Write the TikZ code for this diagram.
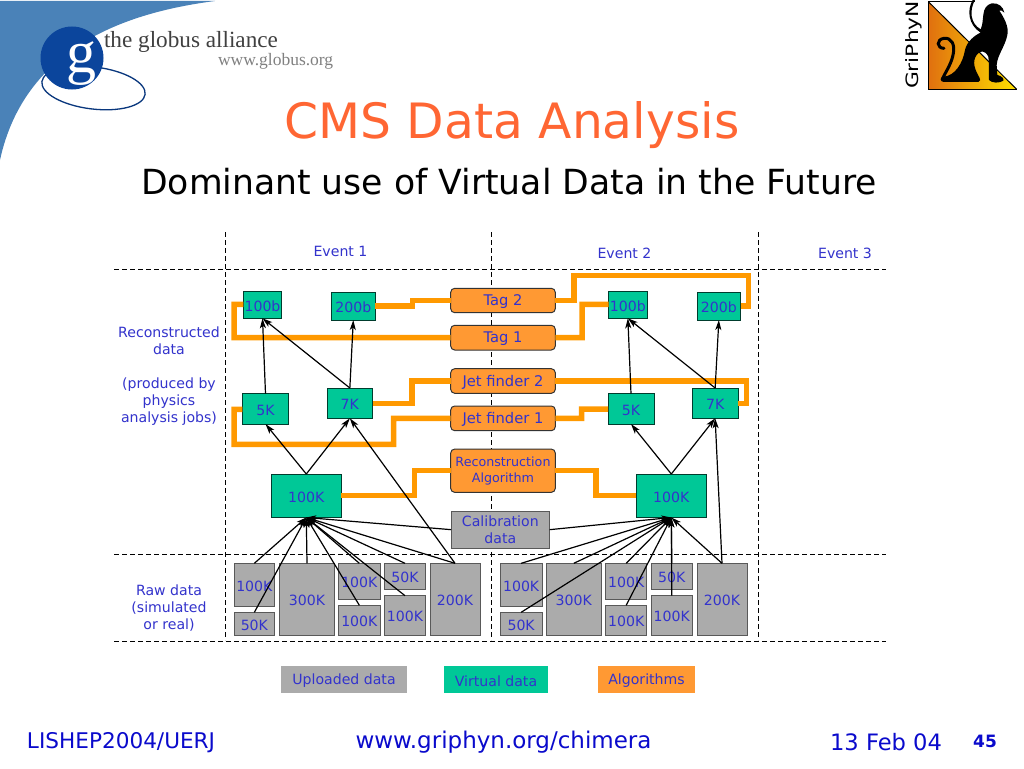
\documentclass[tikz,border=0pt]{standalone}
\usepackage{fontspec}
\setmainfont{DejaVu Sans}
\newfontfamily\serifl{Liberation Serif}
\usetikzlibrary{arrows.meta,shadings}
\definecolor{txtblue}{HTML}{3333CC}
\definecolor{vgreen}{HTML}{00C897}
\definecolor{upgray}{HTML}{ABABAB}
\definecolor{algo}{HTML}{FF9933}
\definecolor{wire}{HTML}{FF9900}
\definecolor{titleor}{HTML}{FF6633}
\definecolor{footblue}{HTML}{0A0ACC}
\definecolor{swoosh}{HTML}{4A82B8}
\definecolor{globe}{HTML}{0B459C}
\definecolor{grleft}{HTML}{E0700F}
\definecolor{grright}{HTML}{FFE000}
\newcommand{\lowr}[1]{\raisebox{-1.3pt}[\height][\depth]{#1}}
\tikzset{
 every node/.style={inner sep=0pt,outer sep=0pt,text=txtblue,font=\fontsize{14.1}{17}\selectfont,align=center},
 virt/.style={draw=black!70!vgreen,line width=1pt,fill=vgreen},
 raw/.style={draw=black!65,line width=1pt,fill=upgray},
 alg/.style={draw=black!80,line width=1pt,fill=algo,rounded corners=4pt,font=\fontsize{14.7}{17}\selectfont},
 wirep/.style={draw=wire,line width=5.5pt,miter limit=10},
 flow/.style={draw=black,line width=1.2pt,-{Stealth[length=10pt,width=6pt,inset=2.5pt]}},
 divider/.style={draw=black,line width=1pt,dash pattern=on 5pt off 3pt},
 footer/.style={text=footblue,font=\fontsize{#1}{#1}\selectfont},
}
\begin{document}
\begin{tikzpicture}[x=1pt,y=-1pt]
\useasboundingbox (0,0) rectangle (1024,768);
\fill[white] (0,0) rectangle (1024,768);
% globus logo
\fill[swoosh] (0,1) -- (215,1) .. controls (130,12) and (25,45) .. (0,160) -- cycle;
\draw[globe!80!black,line width=1.3pt,rotate around={-7:(93.5,88)}] (93.5,88) ellipse (52 and 21);
\fill[globe] (72,58) circle (31.5);
\node[text=white,font=\serifl\fontsize{60}{60}\selectfont] (gl) at (81,64) {g};
\node[text=black!75,anchor=west,font=\serifl\fontsize{23.2}{23}\selectfont] (ga) at (104,41.5) {the globus alliance};
\node[text=black!50,anchor=west,font=\serifl\fontsize{17.5}{17}\selectfont] (gw) at (218,61.5) {www.globus.org};
% griphyn
\begin{scope}[shift={(920,0)},x=0.33333pt,y=-0.33333pt]
\shade[left color=grleft,right color=grright] (25,5) -- (290,268) -- (25,268) -- cycle;
\draw[black,line width=1.6pt] (290,268) -- (25,268) -- (25,5) -- (165,5);
\draw[black,line width=1pt] (25,5) -- (290,268);
\draw[black,line width=3pt,line cap=round] (72,145) .. controls (50,145) and (48,118) .. (72,115)
 .. controls (95,112) and (105,135) .. (100,160) .. controls (95,190) and (80,210) .. (68,235);
\fill[black] (165,0) .. controls (148,30) and (150,70) .. (182,88)
 .. controls (195,60) and (180,20) .. (215,10) .. controls (235,8) and (250,20) .. (253,38)
 .. controls (248,32) and (242,30) .. (238,32) .. controls (250,50) and (268,80) .. (262,105)
 .. controls (255,140) and (232,165) .. (230,195) -- (232,225) .. controls (245,228) and (252,235) .. (250,242)
 .. controls (240,250) and (215,250) .. (207,240) .. controls (205,215) and (208,190) .. (205,170)
 .. controls (195,150) and (180,150) .. (170,165) .. controls (155,185) and (165,210) .. (178,232)
 .. controls (182,238) and (182,245) .. (175,246) -- (72,246) .. controls (60,246) and (58,232) .. (70,230)
 .. controls (105,228) and (128,190) .. (135,150) .. controls (140,125) and (165,105) .. (182,98)
 .. controls (145,75) and (140,30) .. (158,0) -- cycle;
\end{scope}
\node[text=black,rotate=90,xscale=1.28,font=\fontsize{17}{17}\selectfont] (gn) at (913.5,45) {GriPhyN};
% title
\node[text=titleor,font=\fontsize{48.7}{48}\selectfont] (t1) at (512,125) {CMS Data Analysis};
\node[text=black,font=\fontsize{34.6}{34}\selectfont] (t2) at (509,181.5) {Dominant use of Virtual Data in the Future};
% dividers
\coordinate (h1a) at (114,269);\coordinate (h1b) at (886,269);
\coordinate (h2a) at (114,554);\coordinate (h2b) at (886,554);
\coordinate (h3a) at (114,641);\coordinate (h3b) at (886,641);
\coordinate (v1a) at (225,232);\coordinate (v1b) at (225,640);
\coordinate (v2a) at (491.5,232);\coordinate (v2b) at (491.5,640);
\coordinate (v3a) at (758,232);\coordinate (v3b) at (758,640);
\foreach \p in {h1,h2,h3,v1,v2,v3} \draw[divider] (\p a) -- (\p b);
% labels
\node (e1) at (340.5,251.5) {Event 1};
\node (e2) at (624.5,253.5) {Event 2};
\node (e3) at (845,253.5) {Event 3};
\node (lrec) at (169,376) {Reconstructed\\data\\[17pt](produced by\\physics\\analysis jobs)};
\node (lraw) at (169,608) {Raw data\\(simulated\\or real)};
% boxes
\foreach \n/\xa/\ya/\xb/\yb/\t in {
 a/243.3/291/281.7/318.3/100b, b/331.3/292.3/375.3/320/200b,
 c/242.3/393.7/288.7/424/5K, d/327/388/372.7/418.3/7K, e/271.3/474/341.3/517.5/100K,
 f/608.7/291/647/318.3/100b, g/697/292.3/740.7/320/200b,
 h/608/393.7/654/424/5K, i/692.3/388/738/418.3/7K, j/636.3/474/706.3/517.5/100K}{
 \node[virt,minimum width={(\xb-\xa)*1pt},minimum height={(\yb-\ya)*1pt}] (\n) at ({(\xa+\xb)/2},{(\ya+\yb)/2}) {\lowr{\t}};
}
\foreach \n/\xa/\ya/\xb/\yb/\t in {
 ra/234/563.3/274.7/606.7/100K, rb/234/612.3/274.7/635.3/50K, rc/279.7/563.3/334.3/635.3/300K,
 rd/338.7/563.3/380/599.3/100K, re/338.7/605.3/380/635.3/100K, rf/384.3/563.3/425.7/589.7/50K,
 rg/384.3/595.7/425.7/635.3/100K, rh/430/563.3/480/635.3/200K,
 sa/500.3/563.3/542/606.7/100K, sb/500.3/612.3/542/635.3/50K, sc/546.3/563.3/601.3/635.3/300K,
 sd/605.7/563.3/646.7/599.3/100K, se/605.7/605.3/646.7/635.3/100K, sf/651.3/563.3/692.3/589.7/50K,
 sg/651.3/595.7/692.3/635.3/100K, sh/697/563.3/747/635.3/200K}{
 \node[raw,minimum width={(\xb-\xa)*1pt},minimum height={(\yb-\ya)*1pt}] (\n) at ({(\xa+\xb)/2},{(\ya+\yb)/2}) {\lowr{\t}};
}
\node[raw,minimum width=98.7pt,minimum height=37.3pt] (cal) at (500.35,529.65) {};
\node (calt) at (cal) [yshift=-0.5pt] {Calibration\\data};
\foreach \n/\ya/\yb/\t in {tb/288.3/312.7/Tag 2, ta/325.3/350/Tag 1, jb/368.7/393.3/Jet finder 2, ja/406/430.7/Jet finder 1}{
 \node[alg,minimum width=104.6pt,minimum height={(\yb-\ya)*1pt}] (\n) at (503,{(\ya+\yb)/2}) {\lowr{\t}};
}
\node[alg,minimum width=104.6pt,minimum height=43.3pt] (ra2) at (503,470.7) {};
\node[font=\fontsize{12.7}{16}\selectfont] (ra2t) at (ra2) [yshift=-0.5pt] {Reconstruction\\Algorithm};
% wires
\draw[wirep] (tb.west |- 0,300.7) -- (412.7,300.7) -- (412.7,306) -- (b.east |- 0,306);
\draw[wirep] (ta.west) -- (234,337.7) -- (234,304.3) -- (a.west |- 0,304.3);
\draw[wirep] (jb.west) -- (412,381) -- (412,403.3) -- (d.east |- 0,403.3);
\draw[wirep] (ja.west) -- (393.7,418.3) -- (393.7,444.3) -- (234,444.3) -- (234,409.3) -- (c.west |- 0,409.3);
\draw[wirep] (ra2.west) -- (414.7,470.7) -- (414.7,495.7) -- (e.east |- 0,495.7);
\draw[wirep] (tb.east |- 0,300.7) -- (574,300.7) -- (574,275.3) -- (748.3,275.3) -- (748.3,306) -- (g.east |- 0,306);
\draw[wirep] (ta.east) -- (582,337.7) -- (582,304.3) -- (f.west |- 0,304.3);
\draw[wirep] (jb.east) -- (746.7,381) -- (746.7,403.3) -- (i.east |- 0,403.3);
\draw[wirep] (ja.east) -- (581.7,418.3) -- (581.7,409) -- (h.west |- 0,409);
\draw[wirep] (ra2.east) -- (596,470.7) -- (596,495.7) -- (j.west |- 0,495.7);
% arrows
\draw[flow] (c.north) -- (a.south);
\draw[flow] (d.north) -- (a.south);
\draw[flow] (d.north) -- (b.south);
\draw[flow] (e.north) -- (c.south);
\draw[flow] (e.north) -- (d.south);
\draw[flow] (rh.north) -- (d.south);
\draw[flow] (h.north) -- (f.south);
\draw[flow] (i.north) -- (f.south);
\draw[flow] (i.north) -- (g.south);
\draw[flow] (j.north) -- (h.south);
\draw[flow] (j.north) -- (i.south);
\draw[flow] (sh.north) -- (i.south);
\foreach \s in {ra.north,rb.north,rc.north,rd.north,re.north,rf.north,rg.north,rh.north,cal.west} \draw[flow] (\s) -- (e.south);
\foreach \s in {sa.north,sb.north,sc.north,sd.north,se.north,sf.north,sg.north,sh.north,cal.east} \draw[flow] (\s) -- (j.south);
% legend
\node[fill=upgray,minimum width=126pt,minimum height=27pt] (l1) at (344,679.5) {\lowr{Uploaded data}};
\node[fill=vgreen,minimum width=104pt,minimum height=27pt] (l2) at (496,679.5) {\lowr{Virtual data}};
\node[fill=algo,minimum width=97pt,minimum height=27pt] (l3) at (646.5,679.5) {\lowr{Algorithms}};
% footer
\node[footer=21.6,anchor=west] (f1) at (27,742.5) {LISHEP2004/UERJ};
\node[footer=23] (f2) at (503.5,742.5) {www.griphyn.org/chimera};
\node[footer=22.6,anchor=east] (f3) at (942,742.5) {13 Feb 04};
\node[text=footblue,font=\bfseries\fontsize{17}{17}\selectfont] (f4) at (985,741.5) {45};
\end{tikzpicture}
\end{document}
